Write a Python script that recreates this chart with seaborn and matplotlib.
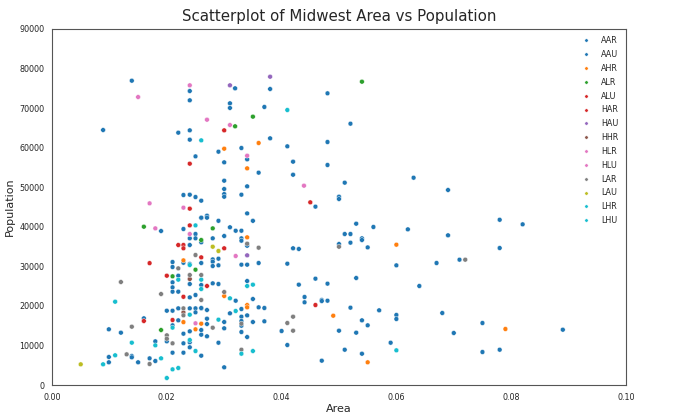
import numpy as np
import pandas as pd
import seaborn as sns
import matplotlib.pyplot as plt

# --- Data: (area, population) per midwest category ---
categories = ["AAR", "AAU", "AHR", "ALR", "ALU", "HAR", "HAU", "HHR",
              "HLR", "HLU", "LAR", "LAU", "LHR", "LHU"]

aar = [(0.016, 16860), (0.0099, 14080), (0.012, 13230), (0.0099, 7080), (0.0139, 7330), (0.0139, 7000),
       (0.0099, 5740), (0.015, 5740), (0.026, 46600), (0.026, 42220), (0.019, 38930), (0.0229, 39440),
       (0.025, 38170), (0.024, 37080), (0.025, 37080), (0.024, 35390), (0.0229, 30900), (0.021, 31090),
       (0.021, 29830), (0.024, 30600), (0.026, 30840), (0.022, 27630), (0.021, 25960), (0.024, 25530),
       (0.026, 25280), (0.021, 24690), (0.021, 23590), (0.022, 23590), (0.024, 22150), (0.025, 22750),
       (0.020, 18780), (0.021, 18780), (0.022, 19380), (0.024, 19380), (0.025, 19380), (0.026, 19380),
       (0.025, 18370), (0.022, 16350), (0.021, 15090), (0.024, 13570), (0.0229, 12970), (0.026, 13900),
       (0.020, 11040), (0.018, 11040), (0.024, 10800), (0.0229, 10540), (0.024, 9530), (0.0229, 8170),
       (0.021, 8170), (0.017, 6740), (0.018, 6070), (0.034, 43380), (0.035, 41510), (0.026, 42300),
       (0.027, 42800), (0.027, 42300), (0.029, 41510), (0.031, 39870), (0.032, 39000), (0.033, 39000),
       (0.030, 37670), (0.033, 37080), (0.033, 36480), (0.026, 36080), (0.028, 37080), (0.034, 35210),
       (0.028, 31760), (0.028, 31170), (0.028, 30080), (0.029, 31930), (0.029, 30260), (0.033, 30420),
       (0.034, 30420), (0.036, 30840), (0.034, 26290), (0.028, 25700), (0.029, 25530), (0.032, 21310),
       (0.035, 21740), (0.036, 19640), (0.037, 19470), (0.026, 19470), (0.027, 18960), (0.031, 18120),
       (0.033, 19210), (0.034, 17600), (0.033, 17270), (0.033, 16180), (0.033, 14990), (0.027, 16770),
       (0.027, 15420), (0.030, 15930), (0.030, 14330), (0.035, 15930), (0.037, 16100), (0.033, 13400),
       (0.034, 12130), (0.026, 12720), (0.027, 12310), (0.029, 10690), (0.026, 7410), (0.030, 4470)]

aau = [(0.0139, 76930), (0.024, 74320), (0.024, 71970), (0.0089, 64460), (0.022, 63790), (0.024, 64380),
       (0.024, 62020), (0.025, 57800), (0.0229, 48030), (0.024, 48110), (0.025, 47520), (0.0319, 75000),
       (0.038, 74830), (0.048, 73740), (0.031, 71210), (0.031, 70040), (0.037, 70290), (0.038, 62360),
       (0.048, 61430), (0.033, 59910), (0.041, 60340), (0.029, 58980), (0.034, 57050), (0.030, 56290),
       (0.042, 56460), (0.048, 55620), (0.036, 53680), (0.042, 53160), (0.030, 51650), (0.034, 50220),
       (0.030, 49550), (0.030, 48280), (0.030, 47600), (0.033, 48110), (0.052, 66060), (0.051, 51150),
       (0.063, 52400), (0.069, 49300), (0.050, 47600), (0.050, 47020), (0.0459, 45090), (0.053, 40780),
       (0.056, 39950), (0.051, 38170), (0.052, 38170), (0.054, 37080), (0.054, 36650), (0.050, 35640),
       (0.052, 35980), (0.055, 34790), (0.042, 34560), (0.043, 34390), (0.041, 30670), (0.060, 30250),
       (0.0459, 26880), (0.053, 27050), (0.043, 25370), (0.048, 25620), (0.044, 22250), (0.044, 20910),
       (0.047, 21490), (0.047, 21230), (0.048, 21310), (0.052, 19550), (0.057, 18880), (0.060, 17700),
       (0.060, 16690), (0.054, 16350), (0.055, 15090), (0.040, 13650), (0.050, 13730), (0.053, 13230),
       (0.041, 10110), (0.059, 10690), (0.051, 8920), (0.054, 7910), (0.047, 6150), (0.062, 39350),
       (0.078, 41770), (0.082, 40620), (0.069, 37840), (0.078, 34630), (0.067, 30840), (0.071, 31680),
       (0.064, 25030), (0.068, 18200), (0.075, 15670), (0.089, 13980), (0.070, 13150), (0.075, 8340),
       (0.078, 8920)]

ahr = [(0.036, 61180), (0.030, 59740), (0.034, 54770), (0.034, 37330), (0.0229, 31510), (0.0229, 15900),
       (0.026, 15500), (0.025, 14080), (0.030, 22500), (0.034, 20220), (0.034, 19640), (0.060, 35470),
       (0.049, 17520), (0.055, 5740), (0.079, 14160)]
alr = [(0.054, 76680), (0.035, 67840), (0.0319, 65400), (0.016, 40020), (0.026, 36650), (0.028, 39600),
       (0.025, 29150), (0.021, 27480), (0.019, 13900)]
alu = [(0.024, 55950), (0.030, 64380), (0.024, 44580), (0.024, 40350), (0.0229, 35390), (0.0229, 34560)]
har = [(0.045, 46180), (0.016, 16180), (0.022, 35390), (0.017, 30810), (0.026, 32270), (0.020, 27630),
       (0.0229, 22300), (0.030, 34560), (0.027, 25030), (0.021, 16430), (0.0459, 20220)]
hau = [(0.038, 77940), (0.031, 75760), (0.034, 32780)]
hhr = [(0.0229, 18370), (0.024, 26800)]
hlr = [(0.024, 75760), (0.015, 72800), (0.027, 67070), (0.031, 65730), (0.034, 57970), (0.0439, 50390),
       (0.017, 45930)]
hlu = [(0.0229, 44830), (0.018, 39600), (0.024, 38170), (0.025, 15600), (0.032, 32610)]
lar = [(0.012, 26040), (0.0139, 14740), (0.013, 7760), (0.025, 32860), (0.026, 27810), (0.022, 29490),
       (0.024, 27810), (0.019, 23000), (0.026, 21490), (0.0229, 19380), (0.0229, 17620), (0.020, 12560),
       (0.020, 11700), (0.021, 10540), (0.017, 5310), (0.034, 35730), (0.036, 34710), (0.030, 23510),
       (0.033, 15500), (0.028, 14490), (0.033, 8920), (0.050, 34960), (0.042, 17270), (0.041, 15670),
       (0.042, 13730), (0.072, 31680)]
lau = [(0.005, 5230), (0.028, 34960), (0.029, 33880)]
lhr = [(0.026, 61850), (0.041, 69520), (0.011, 21060), (0.0139, 10700), (0.011, 7510), (0.0089, 5230),
       (0.025, 40350), (0.024, 30340), (0.022, 26630), (0.026, 26630), (0.024, 17780), (0.021, 14500)]
lhu = [(0.018, 10030), (0.024, 11380), (0.025, 8590), (0.019, 6740), (0.021, 3960), (0.022, 4300),
       (0.020, 1770), (0.034, 25030), (0.035, 25370), (0.026, 24270), (0.031, 21910), (0.032, 18710),
       (0.029, 16520), (0.033, 7910), (0.035, 8590), (0.060, 8770)]

groups = [aar, aau, ahr, alr, alu, har, hau, hhr, hlr, hlu, lar, lau, lhr, lhu]

# Build one long table, category by category (later categories drawn on top)
rows = []
for cat, pts in zip(categories, groups):
    for a, p in pts:
        rows.append({"area": a, "poptotal": p, "category": cat})
df = pd.DataFrame(rows)

# Colours: tab10 stretched over the 14 categories, like the original
cmap = plt.get_cmap("tab10")
palette = {c: cmap(i / float(len(categories) - 1)) for i, c in enumerate(categories)}

# --- Plot ---
sns.set_style("white")
fig = plt.figure(figsize=(6.8, 4.16), dpi=100)
ax = fig.add_axes([0.0765, 0.0745, 0.844, 0.8558])
sns.scatterplot(data=df, x="area", y="poptotal", hue="category", hue_order=categories,
                palette=palette, s=12, edgecolor="white", linewidth=0.3, ax=ax)

ax.set(xlim=(0.0, 0.1), ylim=(0, 90000))
ax.set_xlabel("Area", fontsize=8, labelpad=2)
ax.set_ylabel("Population", fontsize=8, labelpad=3)
ax.tick_params(labelsize=5.8, pad=2)
ax.set_title("Scatterplot of Midwest Area vs Population", fontsize=10.8)
for sp in ax.spines.values():
    sp.set_color("#555555")
ax.legend(loc="upper right", frameon=False, fontsize=5.8, markerscale=0.7,
          handletextpad=0.9, labelspacing=0.6)

fig.savefig("out.png", dpi=100)
